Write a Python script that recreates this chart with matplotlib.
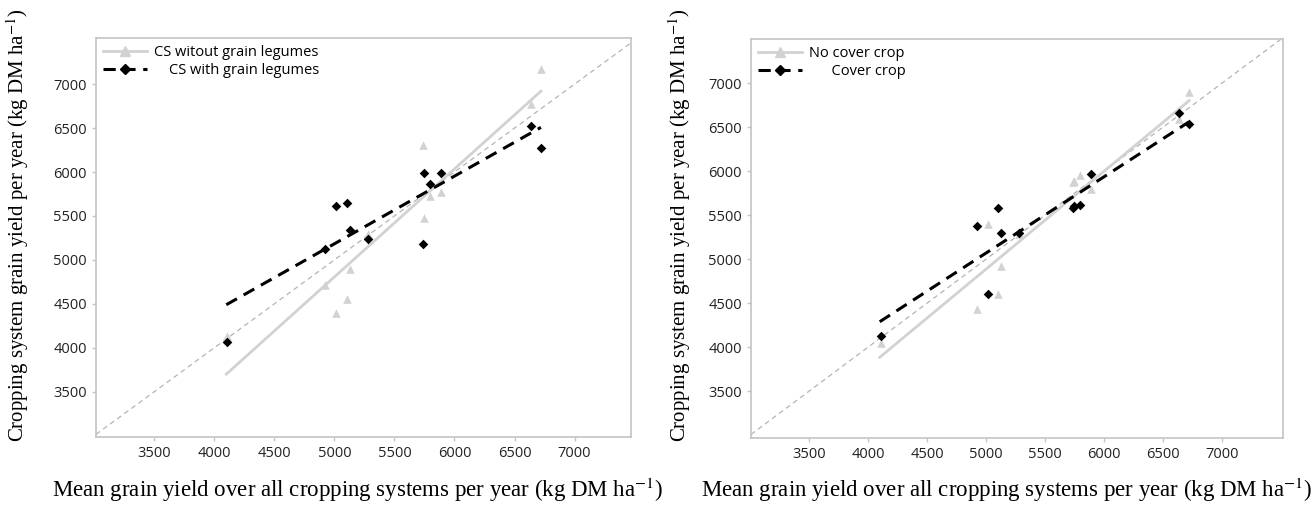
import numpy as np
import matplotlib
matplotlib.use("Agg")
import matplotlib.pyplot as plt

# mean grain yield over all cropping systems, one value per year (kg DM/ha)
mean_yield = [4110, 4920, 5017, 5105, 5126, 5280, 5738, 5745, 5800, 5885, 6638, 6722]

# left panel: cropping systems without / with grain legumes
cs_no_legumes = [4130, 4712, 4391, 4551, 4895, 5300, 6302, 5478, 5730, 5776, 6771, 7172]
cs_legumes = [4070, 5124, 5616, 5650, 5341, 5238, 5181, 5993, 5867, 5993, 6519, 6279]

# right panel: no cover crop / cover crop
no_cover = [4045, 4432, 5398, 4602, 4920, 5290, 5875, 5890, 5955, 5795, 6590, 6898]
cover = [4125, 5375, 4602, 5580, 5295, 5300, 5580, 5600, 5614, 5966, 6659, 6534]

# regression lines (start / end)
fit_x = [4100, 6720]
fit_no_legumes = [3700, 6920]
fit_legumes = [4490, 6508]
fit_no_cover = [3886, 6800]
fit_cover = [4290, 6560]

ticks = [3500, 4000, 4500, 5000, 5500, 6000, 6500, 7000]

GREY = '#d2d2d2'
SPINE = '#c4c4c4'

plt.rcParams['font.family'] = ['Open Sans', 'DejaVu Sans']
plt.rcParams['mathtext.fontset'] = 'stix'

fig = plt.figure(figsize=(13.14, 5.13), dpi=100)
ax1 = fig.add_axes([96/1314, 1-437/513, 535/1314, 399/513])
ax2 = fig.add_axes([751/1314, 1-438/513, 532/1314, 399/513])


def draw_panel(ax, y_grey, y_black, fit_grey, fit_black, lab_grey, lab_black, xlim, ylim):
    ax.axline((3500, 3500), (7000, 7000), color='#b4b4b4', lw=0.9, ls=(0, (4, 3)), zorder=1)
    ax.plot(fit_x, fit_grey, color=GREY, lw=2, zorder=2)
    ax.plot(fit_x, fit_black, color='black', lw=2.2, ls=(0, (4, 2.5)), zorder=3)
    ax.scatter(mean_yield, y_grey, marker='^', s=38, color=GREY, zorder=2, linewidths=0)
    ax.scatter(mean_yield, y_black, marker='D', s=24, color='black', zorder=4, linewidths=0)
    h1, = ax.plot([], [], color=GREY, lw=2, marker='^', ms=7, mec=GREY)
    h2, = ax.plot([], [], color='black', lw=2.2, ls=(0, (4, 2.5)), marker='D', ms=5.5)
    ax.legend([h1, h2], [lab_grey, lab_black], loc='upper left', frameon=False,
              fontsize=10.5, handlelength=3, handletextpad=0.5, labelspacing=0.2,
              borderaxespad=0.3, borderpad=0.2)
    ax.set_xlim(xlim)
    ax.set_ylim(ylim)
    ax.set_xticks(ticks)
    ax.set_yticks(ticks)
    for s in ax.spines.values():
        s.set_color(SPINE)
        s.set_linewidth(1.2)
    ax.tick_params(colors=SPINE, labelcolor='#222222', labelsize=10.5, length=3, width=1)


draw_panel(ax1, cs_no_legumes, cs_legumes, fit_no_legumes, fit_legumes,
           'CS witout grain legumes', '    CS with grain legumes', (3015, 7470), (2985, 7525))
draw_panel(ax2, no_cover, cover, fit_no_cover, fit_cover,
           'No cover crop', '      Cover crop', (3010, 7515), (2970, 7500))

ylab = 'Cropping system grain yield per year (kg DM ha$^{-1}$)'
xlab = 'Mean grain yield over all cropping systems per year (kg DM ha$^{-1}$)'
serif = 'Liberation Serif'
fig.text(18/1314, 1-225/513, ylab, rotation=90, ha='center', va='center', fontsize=15, family=serif)
fig.text(680/1314, 1-225/513, ylab, rotation=90, ha='center', va='center', fontsize=15, family=serif)
fig.text(358/1314, 1-490/513, xlab, ha='center', va='center', fontsize=16.5, family=serif)
fig.text(1007/1314, 1-490/513, xlab, ha='center', va='center', fontsize=16.5, family=serif)

fig.savefig('out.png', dpi=100)
